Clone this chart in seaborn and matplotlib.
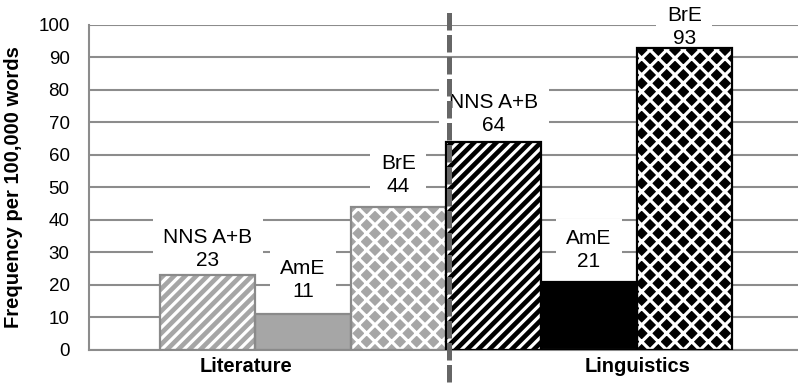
import matplotlib
matplotlib.use('Agg')
import matplotlib.pyplot as plt
import matplotlib.transforms as mtransforms
from matplotlib.patches import Rectangle
import pandas as pd
import seaborn as sns

# data
fields = ['Literature', 'Linguistics']
varieties = ['NNS A+B', 'AmE', 'BrE']
literature = [23, 11, 44]
linguistics = [64, 21, 93]
yticks = list(range(0, 101, 10))

# label gap above each bar (pixels), bars in x order
label_gap = [5, 13, 11, 7, 11, 0]

sns.set_style('white')
plt.rcParams['font.family'] = ['Liberation Sans', 'DejaVu Sans']
plt.rcParams['hatch.linewidth'] = 2.3
plt.rcParams['text.color'] = 'black'
plt.rcParams['xtick.color'] = 'black'
plt.rcParams['ytick.color'] = 'black'
plt.rcParams['axes.labelcolor'] = 'black'

records = []
for i, v in enumerate(varieties):
    records.append((fields[0], v, literature[i]))
    records.append((fields[1], v, linguistics[i]))
df = pd.DataFrame(records, columns=['Field', 'Variety', 'Frequency'])

fig = plt.figure(figsize=(7.98, 3.83), dpi=100)
ax = fig.add_axes([0.1115, 0.0862, 0.8885, 0.8486])

sns.barplot(data=df, x='Field', y='Frequency', hue='Variety', order=fields,
            hue_order=varieties, width=1.0, gap=0, errorbar=None,
            saturation=1, legend=False, ax=ax, zorder=2)

grey = '#a6a6a6'
faces = [grey] * 3 + ['black'] * 3
outlines = ['#8a8a8a'] * 3 + ['black'] * 3
hatches = ['///', '', 'xx'] * 2

bars = sorted(ax.patches, key=lambda p: p.get_x())
labels = [f'{varieties[i]}\n{vals[i]}' for vals in (literature, linguistics) for i in range(3)]

for p, fc, ec, h, txt, gap in zip(bars, faces, outlines, hatches, labels, label_gap):
    p.set_facecolor(fc)
    p.set_hatch(h)
    p.set_edgecolor('white')
    p.set_linewidth(0)
    ax.add_patch(Rectangle((p.get_x(), p.get_y()), p.get_width(), p.get_height(),
                           fill=False, edgecolor=ec, lw=1.6, zorder=3))
    ax.annotate(txt, (p.get_x() + p.get_width() / 2, p.get_height()),
                xytext=(0, gap), textcoords='offset pixels', ha='center',
                va='bottom', fontsize=15, linespacing=1.25, zorder=1,
                bbox=dict(boxstyle='square,pad=0.5', fc='white', ec='none'))

# divider between the two fields
ax.axvline(0.51, ymin=-0.10, ymax=1.052, color='#666666', lw=3.6,
           dashes=(3.5, 0.9), clip_on=False, zorder=4)

ax.set_xlim(-0.748, 1.731)
ax.set_ylim(0, 100)
ax.set_yticks(yticks)
ax.set_axisbelow(True)
ax.yaxis.grid(True, color='#8c8c8c', lw=1.5)
ax.xaxis.grid(False)
ax.tick_params(axis='y', length=0, pad=14, labelsize=13.5)
ax.tick_params(axis='x', length=0, pad=5, labelsize=14.5)
for lab in ax.get_xticklabels():
    lab.set_fontweight('bold')
shifts = [-41, 35]
for lab, dx in zip(ax.get_xticklabels(), shifts):
    lab.set_transform(lab.get_transform() +
                      mtransforms.ScaledTranslation(dx / 72, 0, fig.dpi_scale_trans))

ax.set_xlabel('')
ax.set_ylabel('Frequency per 100,000 words', fontsize=14.5, fontweight='bold')
ax.yaxis.set_label_coords(-0.093, 0.5)

for s in ['top', 'right']:
    ax.spines[s].set_visible(False)
for s in ['left', 'bottom']:
    ax.spines[s].set_color('#8c8c8c')
    ax.spines[s].set_linewidth(1.5)

fig.savefig('out.png', dpi=100)
